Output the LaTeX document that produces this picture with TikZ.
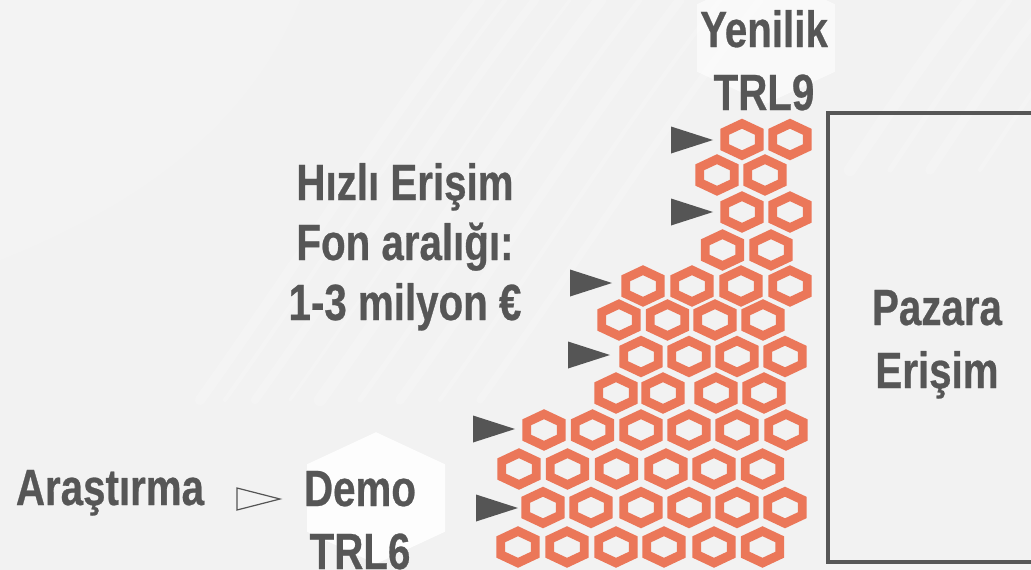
\documentclass[tikz,border=0pt]{standalone}
\usepackage{fontspec}
\newfontfamily\lblfont{Liberation Sans}[FakeStretch=0.79, BoldFeatures={FakeBold=0.5}]
\definecolor{bgcol}{HTML}{F2F2F2}
\definecolor{hexor}{HTML}{EB7759}
\definecolor{ink}{HTML}{565656}
\definecolor{tricol}{HTML}{555555}
\newcommand\hexringat[2]{%
  \fill[hexor, even odd rule, shift={(#1,#2)}]
    (0,-20.8) -- (21.7,-10.6) -- (21.7,10.6) -- (0,20.8) -- (-21.7,10.6) -- (-21.7,-10.6) -- cycle
    (0,-10.8) -- (12.8,-4.8) -- (12.8,4.8) -- (0,10.8) -- (-12.8,4.8) -- (-12.8,-4.8) -- cycle;}
\newcommand\pointerat[2]{%
  \fill[tricol, shift={(#1,#2)}] (0,0) -- (-42,-13.5) -- (-42,13.5) -- cycle;}
\newcommand\bighexat[3]{%
  \fill[white, opacity=#3, shift={(#1,#2)}]
    (0,-65.8) -- (69,-33.7) -- (69,33.7) -- (0,65.8) -- (-69,33.7) -- (-69,-33.7) -- cycle;}
\begin{document}
\begin{tikzpicture}[x=1pt,y=-1pt,
  lbl/.style={font=\lblfont\bfseries\fontsize{51}{63}\selectfont, text=ink, align=center, inner sep=0pt, anchor=base},
  streak/.style={white, opacity=0.22, line cap=round},
  marketbox/.style={draw=ink, line width=3.3pt, minimum width=218pt, minimum height=449pt, inner sep=0pt},
  stepmark/.style={draw=tricol, line width=1.2pt, line join=miter}
]
\useasboundingbox (0,0) rectangle (1031,570);
\clip (0,0) rectangle (1031,570);
\fill[bgcol] (0,0) rectangle (1031,570);
% background streaks
\foreach \s/\w in {0/10, 25/4, 55/8, 90/3, 120/12, 160/5, 200/9, 240/4, 280/7}{
  \draw[streak, line width=\w pt] (200+\s,400) .. controls (300+\s,260) and (380+\s,130) .. (480+\s,0);
}
\foreach \s/\w in {0/12, 40/5, 80/9, 130/4}{
  \draw[streak, line width=\w pt] (850+\s,170) .. controls (890+\s,110) and (930+\s,50) .. (970+\s,0);
}
\fill[white, opacity=0.15] (0,260) .. controls (150,200) and (250,120) .. (300,0) -- (0,0) -- cycle;

% white backdrop hexagons
\bighexat{766}{38}{0.6}
\bighexat{376}{498}{0.85}

% honeycomb
\foreach \yy/\xs in {139.5/{742,790}, 175/{717,765}, 212/{742,790}, 250/{722.5,771},
  286/{643,692,741,790}, 320/{619,667.5,715,763}, 356.5/{641,689,737,785}, 393/{616,663,716,764},
  430/{544,592.5,641,689,737,786}, 469/{519,567.5,616.5,666,714,762.5},
  507.5/{543,591,641,689,737,785}, 547/{518,567,616,664,714,762.5}}{
  \foreach \xx in \xs {\hexringat{\xx}{\yy}}
}

% pointers
\foreach \px/\py in {713/140, 713/212, 612/283, 610/355, 515/429, 518/508}{
  \pointerat{\px}{\py}
}

% labels (anchor base = baseline of the last line)
\node[lbl] (yenilik) at (764,110) {Yenilik\\TRL9};
\node[lbl, font=\lblfont\bfseries\fontsize{51}{60}\selectfont] (hizli) at (405,320) {Hızlı Erişim\\Fon aralığı:\\1-3 milyon €};
\node[lbl] (arastirma) at (110,505) {Araştırma};
\node[lbl] (demo) at (360,569) {Demo\\TRL6};
\node[marketbox] (market) at (937,337.5) {};
\node[lbl] (pazara) at (market.center |- 0,388) {Pazara\\Erişim};

% step marker between Araştırma and Demo
\draw[stepmark] (237,488) -- (280,499) -- (237,510) -- cycle;
\end{tikzpicture}
\end{document}
